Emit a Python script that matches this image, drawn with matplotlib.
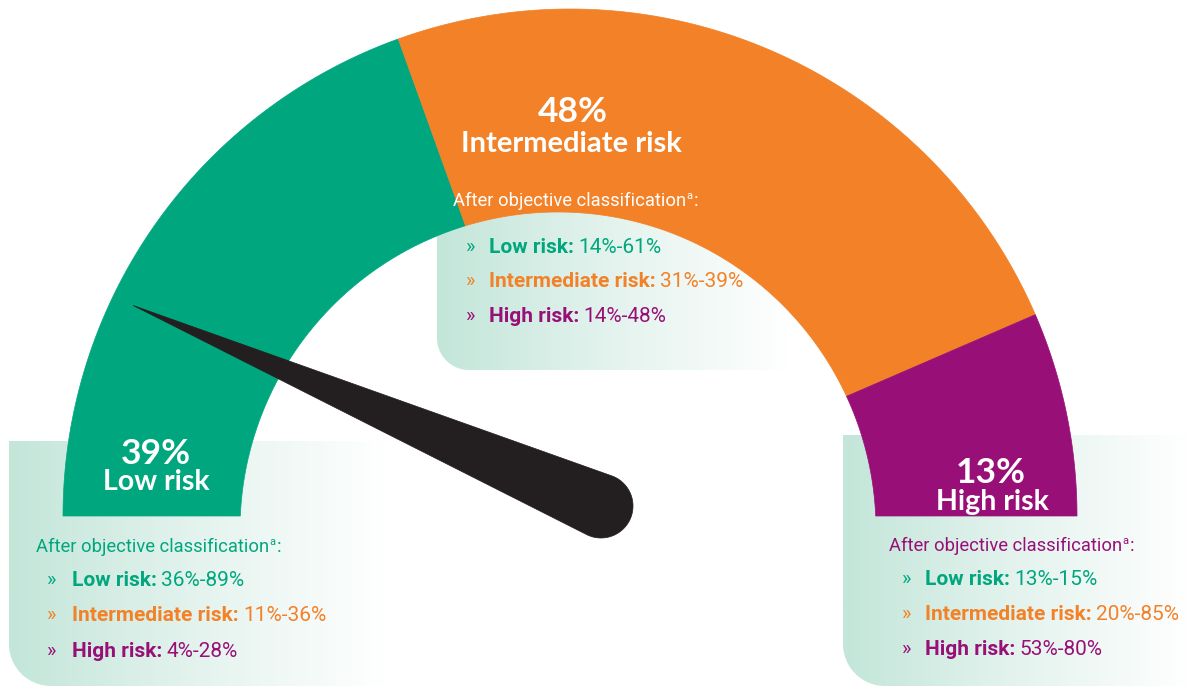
import numpy as np
import matplotlib
matplotlib.use("Agg")
import matplotlib.pyplot as plt
from matplotlib.patches import Polygon, PathPatch
from matplotlib.path import Path
from matplotlib.colors import LinearSegmentedColormap

# ---------------- data ----------------
categories = ["Low risk", "Intermediate risk", "High risk"]
shares = [39, 48, 13]
list_labels = ["Low risk:", "Intermediate risk:", "High risk:"]
ranges_low_box = ["36%-89%", "11%-36%", "4%-28%"]
ranges_intermediate_box = ["14%-61%", "31%-39%", "14%-48%"]
ranges_high_box = ["13%-15%", "20%-85%", "53%-80%"]
header_text = "After objective classification"

# ---------------- style ----------------
seg_colors = ["#00A77E", "#F28127", "#990F78"]
needle_color = "#231F20"
mint = "#C3E6D9"
BOLD_FONT = ["Lato", "DejaVu Sans"]
NARROW_FONT = ["Liberation Sans Narrow", "Roboto", "DejaVu Sans"]

fig = plt.figure(figsize=(11.9, 6.86), dpi=100)
ax = fig.add_axes([0, 0, 1, 1])
ax.set_xlim(0, 1190)
ax.set_ylim(686, 0)
ax.axis("off")

# ---------------- gradient boxes ----------------
cmap = LinearSegmentedColormap.from_list("mintfade", [mint, "#E4F3EE", "#FFFFFF"])


def box(x0, y0, x1, y1, r):
    a = np.linspace(np.pi / 2, np.pi, 20)
    cx, cy = x0 + r, y1 - r
    arc = np.column_stack([cx + r * np.cos(a), cy + r * np.sin(a)])
    verts = np.vstack([[x0, y0], [x1, y0], [x1, y1], arc, [x0, y0]])
    patch = PathPatch(Path(verts), facecolor="none", edgecolor="none")
    ax.add_patch(patch)
    grad = np.linspace(0, 1, 256)[None, :]
    im = ax.imshow(grad, extent=(x0, x1, y1, y0), cmap=cmap, aspect="auto",
                   zorder=1, interpolation="bilinear")
    im.set_clip_path(patch)


box(9, 441, 385, 686, 42)
box(437, 200, 790, 370, 32)
box(843, 435, 1190, 686, 42)

# ---------------- gauge ----------------
C = np.array([570.0, 516.0])
R_OUT = 507.0
C_IN = np.array([558.0, 530.0])
R_IN = 318.0


def ray(theta):
    return np.array([np.cos(theta), -np.sin(theta)])


def inner_point(theta):
    u = ray(theta)
    d = C - C_IN
    b = u @ d
    t = -b + np.sqrt(b * b - d @ d + R_IN ** 2)
    return C + t * u


total = float(sum(shares))
cum = np.concatenate([[0], np.cumsum(shares)])
for i, val in enumerate(shares):
    t0 = np.pi - np.pi * cum[i] / total
    t1 = np.pi - np.pi * cum[i + 1] / total
    th = np.linspace(t0, t1, 200)
    outer = np.array([C + R_OUT * ray(t) for t in th])
    inner = np.array([inner_point(t) for t in th[::-1]])
    ax.add_patch(Polygon(np.vstack([outer, inner]), closed=True,
                         facecolor=seg_colors[i], edgecolor=seg_colors[i],
                         lw=0.5, zorder=3))

# segment labels
pct_pos = [(156, 464), (573, 122), (991, 483)]
cat_pos = [(156, 490), (571, 152), (992, 510)]
pct_size = [25.5, 25.5, 25.5]
cat_size = [20.5, 21, 20.5]
for i, cat in enumerate(categories):
    ax.text(*pct_pos[i], f"{shares[i]}%", color="white", fontsize=pct_size[i],
            fontweight="bold", family=BOLD_FONT, ha="center", va="baseline", zorder=5)
    ax.text(*cat_pos[i], cat, color="white", fontsize=cat_size[i],
            fontweight="bold", family=BOLD_FONT, ha="center", va="baseline", zorder=5)

# ---------------- needle ----------------
pivot = np.array([601.0, 506.0])
cap_r = 32.0
needle_len = 509.0
needle_ang = np.deg2rad(156.8)
tip = pivot + needle_len * ray(needle_ang)
alpha = np.arcsin(cap_r / needle_len)
phi = needle_ang
a_start = phi + (np.pi / 2 - alpha)
a_end = phi + 2 * np.pi - (np.pi / 2 - alpha)
arc_a = np.linspace(a_start, a_end, 80)
cap = np.array([pivot + cap_r * ray(a) for a in arc_a])
ax.add_patch(Polygon(np.vstack([[tip], cap]), closed=True, facecolor=needle_color,
                     edgecolor=needle_color, lw=0.5, zorder=6))


# ---------------- box texts ----------------
def header(x, y, color):
    t = ax.text(x, y, header_text, color=color, fontsize=13.2, fontweight="normal",
                family=NARROW_FONT, ha="left", va="baseline", zorder=7)
    s = ax.annotate("a", xy=(1, y - 7), xycoords=(t, "data"), xytext=(0.3, 0),
                    textcoords="offset points", color=color, fontsize=8,
                    family=NARROW_FONT, ha="left", va="baseline", zorder=7)
    ax.annotate(":", xy=(1, y), xycoords=(s, "data"), xytext=(0.8, 0),
                textcoords="offset points", color=color, fontsize=13.2,
                fontweight="normal", family=NARROW_FONT, ha="left",
                va="baseline", zorder=7)


def items(xb, xt, ys, values):
    for i in range(3):
        col = seg_colors[i]
        ax.text(xb, ys[i], "»", color=col, fontsize=14.5, family=NARROW_FONT,
                ha="left", va="baseline", zorder=7)
        t = ax.text(xt, ys[i], list_labels[i], color=col, fontsize=15,
                    fontweight="bold", family=NARROW_FONT, ha="left",
                    va="baseline", zorder=7)
        ax.annotate(values[i], xy=(1, ys[i]), xycoords=(t, "data"),
                    xytext=(3.2, 0), textcoords="offset points", color=col,
                    fontsize=15, family=NARROW_FONT, ha="left", va="baseline",
                    zorder=7)


header(36, 552, seg_colors[0])
items(47, 72, [586, 621, 657], ranges_low_box)

header(453, 206, "white")
items(466, 489, [253, 287, 322], ranges_intermediate_box)

header(889, 551, seg_colors[2])
items(902, 925, [585, 620, 655], ranges_high_box)

fig.savefig("out.png", dpi=100)
